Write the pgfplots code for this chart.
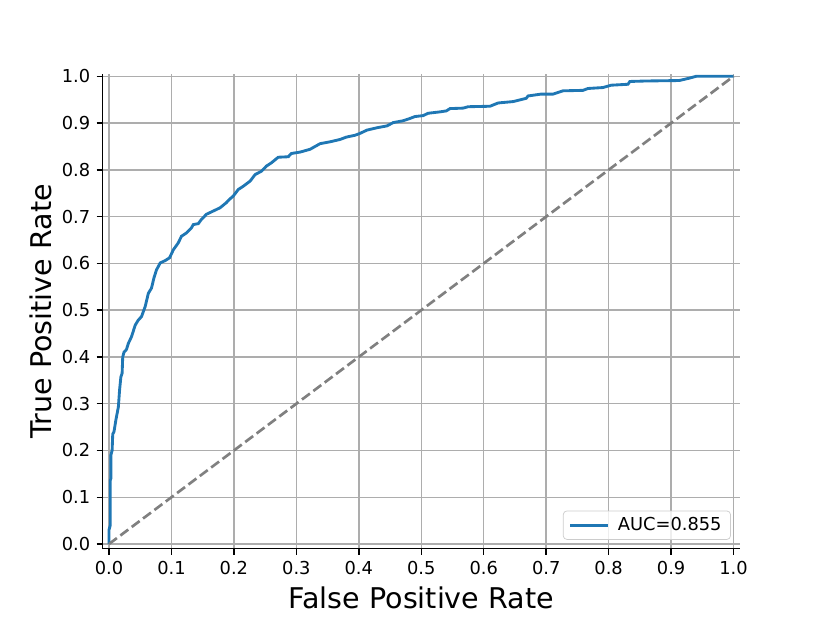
\documentclass[border=0pt]{standalone}
\usepackage{fontspec}
\setmainfont{DejaVu Sans}
\usepackage{pgfplots}
\pgfplotsset{compat=1.18}
\definecolor{tabblue}{HTML}{1F77B4}
\begin{document}
\begin{tikzpicture}
\useasboundingbox (0,0) rectangle (460.8pt,345.6pt);
\begin{axis}[
  at={(57.6pt,38.016pt)}, anchor=south west,
  scale only axis, width=357.12pt, height=266.11pt,
  xmin=-0.01, xmax=1.01, ymin=-0.01, ymax=1.005,
  axis lines*=left,
  axis line style={black, line width=0.8pt},
  xtick={0,0.1,...,1.01}, ytick={0,0.1,...,1.01},
  tick align=outside, major tick length=3.5pt,
  tick style={black, line width=0.8pt},
  grid=major, grid style={black!32, line width=0.8pt},
  /pgf/number format/assume math mode=true,
  /pgf/number format/.cd, fixed, fixed zerofill, precision=1, /pgfplots/.cd,
  ticklabel style={font=\fontsize{10}{12}\selectfont},
  xlabel={False Positive Rate}, ylabel={True Positive Rate},
  label style={font=\fontsize{16}{19}\selectfont},
  xlabel style={at={(axis description cs:0.5,0)}, anchor=base, yshift=-33.6pt},
  ylabel style={at={(axis description cs:0,0.5)}, anchor=base, yshift=28.6pt},
  legend style={at={(1,0)}, anchor=south east, xshift=-5pt, yshift=5pt,
    draw=black!20, rounded corners=2pt, fill=white, fill opacity=0.8, text opacity=1,
    inner xsep=3pt, inner ysep=1.5pt,
    /tikz/every odd column/.append style={column sep=3pt},
    font=\fontsize{10}{12}\selectfont},
  legend cell align=left,
  legend image code/.code={\draw[#1] (0pt,0pt) -- (21pt,0pt);},
]
\addplot[tabblue, line width=1.6pt] coordinates {
(0.000,0.000)(0.000,0.030)(0.002,0.040)(0.002,0.136)(0.003,0.140)(0.003,0.190)
(0.005,0.200)(0.006,0.235)(0.008,0.240)(0.011,0.265)(0.015,0.293)(0.017,0.330)
(0.019,0.357)(0.021,0.365)(0.022,0.400)(0.024,0.410)(0.028,0.416)(0.031,0.429)
(0.036,0.443)(0.042,0.468)(0.047,0.479)(0.052,0.486)(0.058,0.508)(0.063,0.536)
(0.068,0.547)(0.072,0.569)(0.076,0.586)(0.082,0.601)(0.090,0.606)(0.097,0.612)
(0.103,0.629)(0.111,0.644)(0.116,0.658)(0.124,0.665)(0.132,0.676)(0.135,0.683)
(0.143,0.685)(0.148,0.694)(0.156,0.705)(0.167,0.712)(0.178,0.719)(0.188,0.730)
(0.193,0.737)(0.199,0.744)(0.207,0.758)(0.215,0.765)(0.226,0.776)(0.234,0.790)
(0.244,0.797)(0.252,0.808)(0.260,0.815)(0.271,0.827)(0.287,0.828)(0.292,0.835)
(0.306,0.838)(0.322,0.844)(0.330,0.850)(0.338,0.856)(0.354,0.860)(0.370,0.865)
(0.380,0.870)(0.394,0.874)(0.402,0.878)(0.413,0.885)(0.429,0.890)(0.445,0.894)
(0.455,0.901)(0.471,0.905)(0.482,0.910)(0.490,0.914)(0.503,0.916)(0.511,0.921)
(0.530,0.924)(0.540,0.926)(0.546,0.931)(0.567,0.932)(0.575,0.935)(0.610,0.936)
(0.623,0.943)(0.647,0.946)(0.668,0.953)(0.671,0.958)(0.692,0.962)(0.711,0.962)
(0.727,0.969)(0.759,0.970)(0.767,0.974)(0.791,0.976)(0.804,0.981)(0.831,0.983)
(0.834,0.989)(0.860,0.990)(0.913,0.991)(0.929,0.996)(0.940,1.000)(1.000,1.000)
};
\addlegendentry{AUC=0.855}
\addplot[forget plot, black!50, line width=1.5pt, dash pattern=on 5.55pt off 2.4pt]
  coordinates {(0,0)(1,1)};
\end{axis}
\end{tikzpicture}
\end{document}
